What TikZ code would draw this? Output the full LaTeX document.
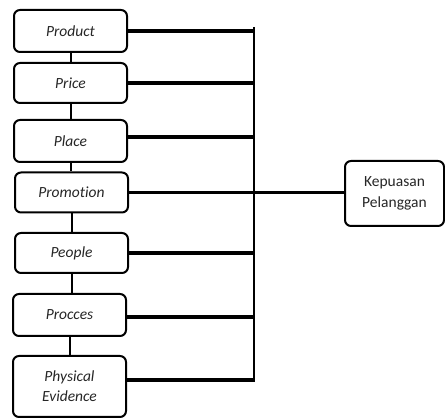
\documentclass[tikz,border=0pt]{standalone}
\usepackage{fontspec}
\setmainfont{Carlito}[Ligatures={NoCommon}]
\begin{document}
\begin{tikzpicture}[x=1pt,y=-1pt,
  box/.style={draw, line width=2pt, rounded corners=6pt, minimum width=113pt, align=center, inner sep=0pt, text=black!85, font=\fontsize{15.5}{20}\selectfont\itshape},
  thick link/.style={line width=3.5pt},
  thin link/.style={line width=2pt}]
\useasboundingbox (0,0) rectangle (445,419);
\node[box, minimum height=42pt] (prod) at (70.5,31) {Product};
\node[box, minimum height=40pt] (price) at (70.5,83) {Price};
\node[box, minimum height=42pt] (place) at (70.5,141) {Place};
\node[box, minimum height=40pt] (promo) at (71.5,192.5) {Promotion};
\node[box, minimum height=40pt] (people) at (71.5,253) {People};
\node[box, minimum height=42pt] (proc) at (69.5,315) {Procces};
\node[box, minimum height=61pt] (phys) at (69.5,386.5) {Physical\\Evidence};
\node[box, minimum width=99pt, minimum height=65pt, font=\fontsize{15.5}{21}\selectfont] (kep) at (394.5,193.5) {Kepuasan\\Pelanggan};
\coordinate (bustop) at (254,27);
\coordinate (busbot) at (254,382);
\draw[thin link] (bustop) -- (busbot);
\draw[thick link] (prod.east) -- (prod.east -| bustop);
\draw[thick link] (price.east) -- (price.east -| bustop);
\draw[thick link] ([yshift=4pt]place.east) -- ([yshift=4pt]place.east -| bustop);
\draw[thick link] (promo.east) -- (promo.east -| kep.west);
\draw[thick link] (people.east) -- (people.east -| bustop);
\draw[thick link] ([yshift=-2pt]proc.east) -- ([yshift=-2pt]proc.east -| bustop);
\draw[thick link] ([yshift=6.5pt]phys.east) -- ([yshift=6.5pt]phys.east -| bustop);
\draw[thin link] (prod.south) -- (prod.south |- price.north);
\draw[thin link] (price.south) -- (price.south |- place.north);
\draw[thin link] (place.south) -- (place.south |- promo.north);
\draw[thin link] (promo.south) -- (promo.south |- people.north);
\draw[thin link] (people.south) -- (people.south |- proc.north);
\draw[thin link] (proc.south) -- (proc.south |- phys.north);
\end{tikzpicture}
\end{document}
